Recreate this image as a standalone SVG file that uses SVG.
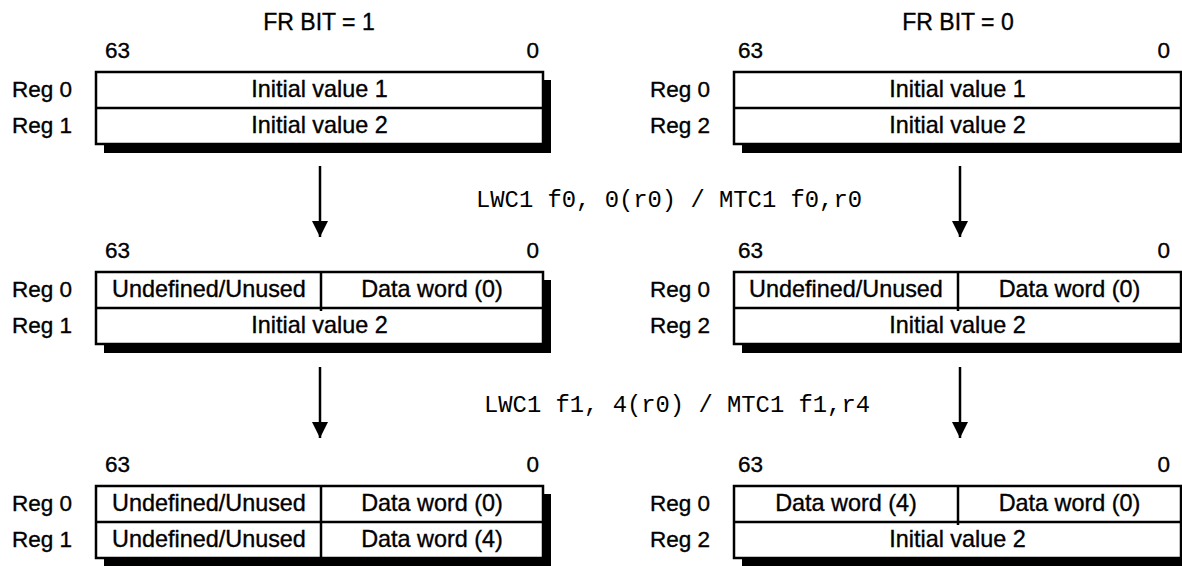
<svg xmlns="http://www.w3.org/2000/svg" width="1182" height="566" viewBox="0 0 1182 566">
<defs>
<style>
.t{font-family:"Liberation Sans",Arial,sans-serif;font-size:22.5px;fill:#000;stroke:#000;stroke-width:0.35}
.m{text-anchor:middle;font-size:23.4px}
.e{text-anchor:end}
.h{font-size:23px}
.c{font-family:"Liberation Mono","Courier New",monospace;font-size:23px;fill:#000}
.box{fill:#fff;stroke:#000;stroke-width:2.5}
.sh{fill:#000}
.ln{stroke:#000;stroke-width:2.5;fill:none}
</style>
<marker id="ah" viewBox="0 0 16 16" refX="16" refY="8" markerWidth="16" markerHeight="16" markerUnits="userSpaceOnUse" orient="auto">
<path d="M0,0 L16,8 L0,16 Z" fill="#000"/>
</marker>
</defs>
<rect width="1182" height="566" fill="#fff"/>
<text class="t m h" x="319" y="30">FR BIT = 1</text>
<text class="t m h" x="958" y="30">FR BIT = 0</text>

<g id="left-top">
<text class="t" x="105" y="58">63</text><text class="t e" x="539" y="58">0</text>
<text class="t" x="12" y="97">Reg 0</text><text class="t" x="12" y="133">Reg 1</text>
<rect class="sh" x="104" y="80" width="447" height="73"/>
<rect class="box" x="96" y="72" width="447" height="72"/>
<line class="ln" x1="96" y1="108" x2="543" y2="108"/>
<text class="t m" x="319.5" y="97">Initial value 1</text>
<text class="t m" x="319.5" y="133">Initial value 2</text>
</g>
<g id="right-top">
<text class="t" x="738" y="58">63</text><text class="t e" x="1170" y="58">0</text>
<text class="t" x="650" y="97">Reg 0</text><text class="t" x="650" y="133">Reg 2</text>
<rect class="sh" x="742" y="80" width="447" height="73"/>
<rect class="box" x="734" y="72" width="447" height="72"/>
<line class="ln" x1="734" y1="108" x2="1181" y2="108"/>
<text class="t m" x="957.5" y="97">Initial value 1</text>
<text class="t m" x="957.5" y="133">Initial value 2</text>
</g>

<g id="left-mid">
<text class="t" x="105" y="258">63</text><text class="t e" x="539" y="258">0</text>
<text class="t" x="12" y="297">Reg 0</text><text class="t" x="12" y="333">Reg 1</text>
<rect class="sh" x="104" y="280" width="447" height="73"/>
<rect class="box" x="96" y="272" width="447" height="72"/>
<line class="ln" x1="96" y1="308" x2="543" y2="308"/>
<line class="ln" x1="321" y1="272" x2="321" y2="311"/>
<text class="t m" x="209" y="297">Undefined/Unused</text>
<text class="t m" x="432" y="297">Data word (0)</text>
<text class="t m" x="319.5" y="333">Initial value 2</text>
</g>
<g id="right-mid">
<text class="t" x="738" y="258">63</text><text class="t e" x="1170" y="258">0</text>
<text class="t" x="650" y="297">Reg 0</text><text class="t" x="650" y="333">Reg 2</text>
<rect class="sh" x="742" y="280" width="447" height="73"/>
<rect class="box" x="734" y="272" width="447" height="72"/>
<line class="ln" x1="734" y1="308" x2="1181" y2="308"/>
<line class="ln" x1="958" y1="272" x2="958" y2="311"/>
<text class="t m" x="846" y="297">Undefined/Unused</text>
<text class="t m" x="1069.5" y="297">Data word (0)</text>
<text class="t m" x="957.5" y="333">Initial value 2</text>
</g>

<g id="left-bot">
<text class="t" x="105" y="472">63</text><text class="t e" x="539" y="472">0</text>
<text class="t" x="12" y="511">Reg 0</text><text class="t" x="12" y="547">Reg 1</text>
<rect class="sh" x="104" y="494" width="447" height="73"/>
<rect class="box" x="96" y="486" width="447" height="72"/>
<line class="ln" x1="96" y1="522" x2="543" y2="522"/>
<line class="ln" x1="321" y1="486" x2="321" y2="558"/>
<text class="t m" x="209" y="511">Undefined/Unused</text>
<text class="t m" x="432" y="511">Data word (0)</text>
<text class="t m" x="209" y="547">Undefined/Unused</text>
<text class="t m" x="432" y="547">Data word (4)</text>
</g>
<g id="right-bot">
<text class="t" x="738" y="472">63</text><text class="t e" x="1170" y="472">0</text>
<text class="t" x="650" y="511">Reg 0</text><text class="t" x="650" y="547">Reg 2</text>
<rect class="sh" x="742" y="494" width="447" height="73"/>
<rect class="box" x="734" y="486" width="447" height="72"/>
<line class="ln" x1="734" y1="522" x2="1181" y2="522"/>
<line class="ln" x1="958" y1="486" x2="958" y2="525"/>
<text class="t m" x="846" y="511">Data word (4)</text>
<text class="t m" x="1069.5" y="511">Data word (0)</text>
<text class="t m" x="957.5" y="547">Initial value 2</text>
</g>

<g id="connectors">
<line class="ln" x1="320" y1="166" x2="320" y2="237" marker-end="url(#ah)"/>
<line class="ln" x1="960" y1="166" x2="960" y2="237" marker-end="url(#ah)"/>
<line class="ln" x1="320" y1="367" x2="320" y2="438" marker-end="url(#ah)"/>
<line class="ln" x1="960" y1="367" x2="960" y2="438" marker-end="url(#ah)"/>
</g>
<text class="c" x="476" y="207" textLength="386" lengthAdjust="spacingAndGlyphs">LWC1 f0, 0(r0) / MTC1 f0,r0</text>
<text class="c" x="484" y="412" textLength="386" lengthAdjust="spacingAndGlyphs">LWC1 f1, 4(r0) / MTC1 f1,r4</text>
</svg>
